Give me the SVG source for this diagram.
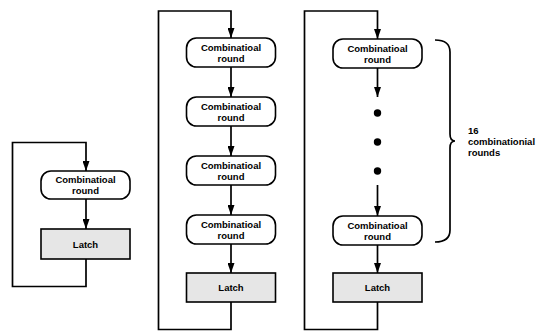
<svg xmlns="http://www.w3.org/2000/svg" width="537" height="331" viewBox="0 0 537 331">
  <style>
    .round { fill: #ffffff; stroke: #000; stroke-width: 1.6; }
    .latch { fill: #e6e6e6; stroke: #000; stroke-width: 1.6; }
    .wire { fill: none; stroke: #000; stroke-width: 1.7; }
    .lbl { font-family: "Liberation Sans", Arial, sans-serif; font-weight: bold; font-size: 9.5px; fill: #000; }
    .c { text-anchor: middle; }
  </style>
  <defs>
    <marker id="arrow" viewBox="0 0 10 7" refX="10" refY="3.5" markerWidth="10" markerHeight="7" markerUnits="userSpaceOnUse" orient="auto">
      <path d="M0,0 L10,3.5 L0,7 Z" fill="#000"/>
    </marker>
  </defs>
  <rect width="537" height="331" fill="#ffffff"/>

  <!-- connectors -->
  <g id="connectors">
    <!-- single-round datapath -->
    <path class="wire" d="M86,259 V286.5 H12.5 V142.5 H86 V171" marker-end="url(#arrow)"/>
    <path class="wire" d="M86,199 V229" marker-end="url(#arrow)"/>
    <!-- four-round datapath -->
    <path class="wire" d="M231,302 V329.5 H158.5 V11 H231 V38" marker-end="url(#arrow)"/>
    <path class="wire" d="M231,67 V97" marker-end="url(#arrow)"/>
    <path class="wire" d="M231,126 V156" marker-end="url(#arrow)"/>
    <path class="wire" d="M231,185 V215" marker-end="url(#arrow)"/>
    <path class="wire" d="M231,244 V273" marker-end="url(#arrow)"/>
    <!-- sixteen-round datapath -->
    <path class="wire" d="M377.5,302 V329.5 H304.5 V11 H377.5 V39" marker-end="url(#arrow)"/>
    <path class="wire" d="M377.5,68 V97" marker-end="url(#arrow)"/>
    <path class="wire" d="M377.5,185 V216" marker-end="url(#arrow)"/>
    <path class="wire" d="M377.5,245 V273" marker-end="url(#arrow)"/>
    <!-- brace grouping the rounds -->
    <path class="wire" d="M435,40 Q450,40 450,52 V134 Q450,141 455,141 Q450,141 450,148 V230 Q450,242 435,242"/>
  </g>

  <!-- single-round datapath -->
  <g id="left-round">
    <rect class="round" x="41" y="171" width="89" height="28" rx="10"/>
    <text class="lbl c" x="85.5" y="183">Combinatioal</text>
    <text class="lbl c" x="85.5" y="194">round</text>
  </g>
  <g id="left-latch">
    <rect class="latch" x="41" y="229" width="89" height="30"/>
    <text class="lbl c" x="85.5" y="247.5">Latch</text>
  </g>

  <!-- four-round datapath -->
  <g id="mid-round-1">
    <rect class="round" x="186.5" y="38" width="89" height="29" rx="10"/>
    <text class="lbl c" x="231" y="50.5">Combinatioal</text>
    <text class="lbl c" x="231" y="61.5">round</text>
  </g>
  <g id="mid-round-2">
    <rect class="round" x="186.5" y="97" width="89" height="29" rx="10"/>
    <text class="lbl c" x="231" y="109.5">Combinatioal</text>
    <text class="lbl c" x="231" y="120.5">round</text>
  </g>
  <g id="mid-round-3">
    <rect class="round" x="186.5" y="156" width="89" height="29" rx="10"/>
    <text class="lbl c" x="231" y="168.5">Combinatioal</text>
    <text class="lbl c" x="231" y="179.5">round</text>
  </g>
  <g id="mid-round-4">
    <rect class="round" x="186.5" y="215" width="89" height="29" rx="10"/>
    <text class="lbl c" x="231" y="227.5">Combinatioal</text>
    <text class="lbl c" x="231" y="238.5">round</text>
  </g>
  <g id="mid-latch">
    <rect class="latch" x="186.5" y="273" width="89" height="29"/>
    <text class="lbl c" x="231" y="291">Latch</text>
  </g>

  <!-- sixteen-round datapath -->
  <g id="right-round-first">
    <rect class="round" x="333" y="39" width="89" height="29" rx="10"/>
    <text class="lbl c" x="377.5" y="51.5">Combinatioal</text>
    <text class="lbl c" x="377.5" y="62.5">round</text>
  </g>
  <g id="right-ellipsis">
    <circle cx="377.5" cy="113" r="3.7" fill="#000"/>
    <circle cx="377.5" cy="142" r="3.7" fill="#000"/>
    <circle cx="377.5" cy="171" r="3.7" fill="#000"/>
  </g>
  <g id="right-round-last">
    <rect class="round" x="333" y="216" width="89" height="29" rx="10"/>
    <text class="lbl c" x="377.5" y="228.5">Combinatioal</text>
    <text class="lbl c" x="377.5" y="239.5">round</text>
  </g>
  <g id="right-latch">
    <rect class="latch" x="333" y="273" width="89" height="29"/>
    <text class="lbl c" x="377.5" y="291">Latch</text>
  </g>

  <g id="brace-label">
    <text class="lbl" x="468" y="134">16</text>
    <text class="lbl" x="468" y="145">combinationial</text>
    <text class="lbl" x="468" y="156">rounds</text>
  </g>
</svg>
